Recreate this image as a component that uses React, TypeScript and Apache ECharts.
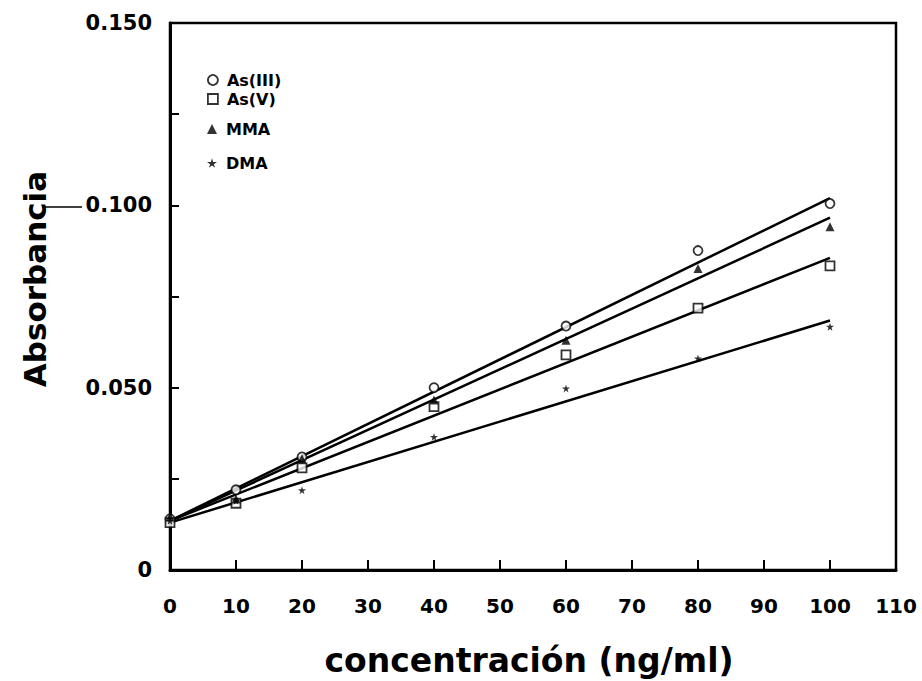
import React, { useEffect, useRef } from "react";
import * as echarts from "echarts";

const concentrations = [0, 10, 20, 40, 60, 80, 100];
const asIII = [0.014, 0.022, 0.031, 0.05, 0.0669, 0.0876, 0.1005];
const asV = [0.013, 0.0183, 0.028, 0.0448, 0.059, 0.0718, 0.0834];
const mma = [0.0145, 0.0195, 0.0305, 0.0466, 0.063, 0.0827, 0.0941];
const dma = [0.0135, 0.019, 0.0219, 0.0365, 0.0498, 0.058, 0.0667];

const fitX = [0, 100];
const fitAsIII = [0.0135, 0.102];
const fitMMA = [0.0135, 0.0966];
const fitAsV = [0.0135, 0.0856];
const fitDMA = [0.013, 0.0684];

const seriesNames = ["As(III)", "As(V)", "MMA", "DMA"];
const xTicks = [0, 10, 20, 30, 40, 50, 60, 70, 80, 90, 100, 110];
const yLabels = ["0", "0.050", "0.100", "0.150"];

const STAR = "path://M50,0 L61,35 L98,35 L68,57 L79,91 L50,70 L21,91 L32,57 L2,35 L39,35 Z";
const FONT = "DejaVu Sans";

const pairs = (xs: number[], ys: number[]) => xs.map((x, i) => [x, ys[i]]);

export default function App() {
  const ref = useRef<HTMLDivElement>(null);
  useEffect(() => {
    if (!ref.current) return;
    const chart = echarts.init(ref.current, null, { renderer: "svg" });
    const fitLine = (ys: number[]) => ({
      type: "line",
      data: pairs(fitX, ys),
      symbol: "none",
      lineStyle: { color: "#000", width: 2.5 },
      z: 2,
      silent: true,
    });
    const scatter = (name: string, ys: number[], symbol: string, hollow: boolean, size: number) => ({
      type: "scatter",
      name,
      data: pairs(concentrations, ys),
      symbol,
      symbolSize: size,
      itemStyle: hollow
        ? { color: "#fff", borderColor: "#000", borderWidth: 1.8 }
        : { color: "#000", borderColor: "#000", borderWidth: 0 },
      z: 3,
    });
    const legendItem = (name: string, icon: string, centerY: number, hollow: boolean) => ({
      data: [{ name, icon }],
      orient: "vertical",
      left: 202,
      top: centerY - 13,
      itemWidth: 10,
      itemHeight: 10,
      itemStyle: hollow ? { borderWidth: 1.8, borderColor: "#000", color: "#fff" } : { borderWidth: 0, color: "#000" },
      textStyle: {
        fontFamily: FONT,
        fontWeight: "bold",
        fontSize: 16,
        color: "#000",
        lineHeight: 16,
        padding: [0, 0, 0, 4],
      },
      selectedMode: false,
    });
    chart.setOption({
      animation: false,
      backgroundColor: "#fff",
      grid: {
        left: 170,
        right: 26,
        top: 23,
        bottom: 111,
        show: true,
        borderColor: "#000",
        borderWidth: 2.5,
        backgroundColor: "transparent",
      },
      legend: [
        legendItem(seriesNames[0], "circle", 80, true),
        legendItem(seriesNames[1], "rect", 99, true),
        legendItem(seriesNames[2], "triangle", 129, false),
        legendItem(seriesNames[3], STAR, 163, false),
      ],
      xAxis: {
        type: "value",
        min: 0,
        max: 110,
        interval: 10,
        axisLine: { show: true, lineStyle: { color: "#000", width: 3 } },
        axisTick: { show: true, inside: true, length: 10, lineStyle: { color: "#000", width: 2 } },
        splitLine: { show: false },
        axisLabel: {
          color: "#000",
          fontFamily: FONT,
          fontWeight: "bold",
          fontSize: 20,
          margin: 26,
          formatter: (v: number) => (xTicks.includes(v) ? String(v) : ""),
        },
      },
      yAxis: {
        type: "value",
        min: 0,
        max: 0.15,
        interval: 0.025,
        axisLine: { show: true, lineStyle: { color: "#000", width: 3 } },
        axisTick: { show: true, inside: true, length: 9, lineStyle: { color: "#000", width: 2 } },
        splitLine: { show: false },
        axisLabel: {
          color: "#000",
          fontFamily: FONT,
          fontWeight: "bold",
          fontSize: 21,
          margin: 18,
          formatter: (v: number) => {
            const k = v / 0.05;
            if (Math.abs(k - Math.round(k)) > 1e-6) return "";
            return yLabels[Math.round(k)] ?? "";
          },
        },
      },
      graphic: [
        {
          type: "text",
          x: 35,
          y: 279,
          rotation: Math.PI / 2,
          style: {
            text: "Absorbancia",
            fontFamily: FONT,
            fontWeight: "bold",
            fontSize: 31,
            fill: "#000",
            textAlign: "center",
            textVerticalAlign: "middle",
          },
        },
        {
          type: "line",
          shape: { x1: 42, y1: 207, x2: 82, y2: 207 },
          style: { stroke: "#000", lineWidth: 1.5 },
        },
        {
          type: "text",
          x: 529,
          y: 660,
          style: {
            text: "concentración (ng/ml)",
            fontFamily: FONT,
            fontWeight: "bold",
            fontSize: 33,
            fill: "#000",
            textAlign: "center",
            textVerticalAlign: "middle",
          },
        },
      ],
      series: [
        fitLine(fitAsIII),
        fitLine(fitMMA),
        fitLine(fitAsV),
        fitLine(fitDMA),
        scatter(seriesNames[0], asIII, "circle", true, 9),
        scatter(seriesNames[1], asV, "rect", true, 9),
        scatter(seriesNames[2], mma, "triangle", false, 9),
        scatter(seriesNames[3], dma, STAR, false, 8),
      ],
    });
    return () => chart.dispose();
  }, []);
  return (
    <div
      ref={ref}
      style={{ position: "absolute", left: 0, top: 0, width: 922, height: 681 }}
    />
  );
}
